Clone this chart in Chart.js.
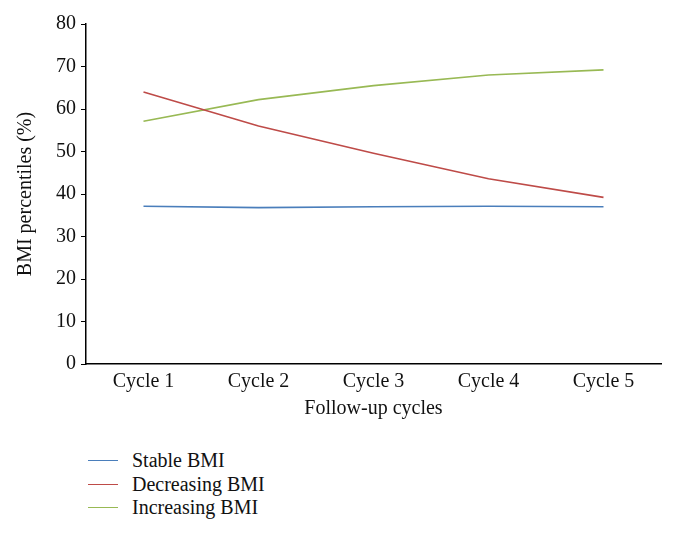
<!DOCTYPE html>
<html>
<head>
<meta charset="utf-8">
<script src="https://cdn.jsdelivr.net/npm/chart.js@4.4.1/dist/chart.umd.min.js"></script>
<style>
    html, body { margin: 0; padding: 0; background: #fff; }
    #wrap { position: relative; width: 675px; height: 536px; }
    #chart-box { position: absolute; left: 0; top: 0; width: 675px; height: 421px; }
    #legend { position: absolute; left: 88px; top: 449px; font-family: 'Liberation Serif', 'DejaVu Serif', serif; font-size: 20px; color: #111; }
    .lg-item { display: flex; align-items: center; height: 23.5px; }
    .lg-line { width: 30px; height: 0; border-top: 1.6px solid; margin-right: 14px; }
</style>
</head>
<body>
<div id="wrap">
    <div id="chart-box"><canvas id="lineChart" width="675" height="421"></canvas></div>
    <div id="legend"></div>
</div>
<script>
    // ─── Data ────────────────────────────────────────────────────────────────
    const cycles = ['Cycle 1', 'Cycle 2', 'Cycle 3', 'Cycle 4', 'Cycle 5'];
    const stableBMI = [37.1, 36.8, 37.0, 37.1, 37.0];
    const decreasingBMI = [64.0, 56.0, 49.6, 43.6, 39.2];
    const increasingBMI = [57.1, 62.2, 65.5, 68.0, 69.2];
    const yTicks = [0, 10, 20, 30, 40, 50, 60, 70, 80];

    const COLORS = {
        blue: '#4a7ebb',
        red: '#be4b48',
        green: '#98b954',
        axis: '#000',
        text: '#111'
    };

    const FONT = "'Liberation Serif', 'DejaVu Serif', serif";
    Chart.defaults.font.family = FONT;
    Chart.defaults.color = COLORS.text;

    function series(label, data, color) {
        return {
            label,
            data,
            borderColor: color,
            backgroundColor: color,
            borderWidth: 1.6,
            pointRadius: 0,
            tension: 0,
            fill: false
        };
    }

    const chart = new Chart(document.getElementById('lineChart'), {
        type: 'line',
        data: {
            labels: cycles,
            datasets: [
                series('Stable BMI', stableBMI, COLORS.blue),
                series('Decreasing BMI', decreasingBMI, COLORS.red),
                series('Increasing BMI', increasingBMI, COLORS.green)
            ]
        },
        options: {
            responsive: false,
            animation: false,
            layout: { padding: { top: 24, right: 14, left: 14, bottom: 0 } },
            plugins: {
                legend: { display: false },
                tooltip: { enabled: false }
            },
            scales: {
                x: {
                    offset: true,
                    grid: { display: true, drawOnChartArea: false, drawTicks: false, color: COLORS.axis },
                    border: { display: true, color: COLORS.axis, width: 1.5 },
                    ticks: { padding: 6, color: COLORS.text, font: { size: 20 } },
                    title: {
                        display: true,
                        text: 'Follow-up cycles',
                        color: COLORS.text,
                        font: { size: 20 },
                        padding: { top: -3, bottom: 0 }
                    }
                },
                y: {
                    min: 0,
                    max: 80,
                    afterBuildTicks: (axis) => { axis.ticks = yTicks.map(v => ({ value: v })); },
                    grid: { display: true, drawOnChartArea: false, drawTicks: true, tickLength: 5, color: COLORS.axis, lineWidth: 1 },
                    border: { display: true, color: COLORS.axis, width: 1.5 },
                    ticks: { padding: 5, color: COLORS.text, font: { size: 20 } },
                    title: {
                        display: true,
                        text: 'BMI percentiles (%)',
                        color: COLORS.text,
                        font: { size: 20 },
                        padding: { top: 0, bottom: 13 }
                    }
                }
            }
        }
    });

    // ─── HTML legend (vertical list under the chart) ─────────────────────────
    const legendEl = document.getElementById('legend');
    chart.data.datasets.forEach(ds => {
        const item = document.createElement('div');
        item.className = 'lg-item';
        const line = document.createElement('span');
        line.className = 'lg-line';
        line.style.borderTopColor = ds.borderColor;
        const txt = document.createElement('span');
        txt.textContent = ds.label;
        item.appendChild(line);
        item.appendChild(txt);
        legendEl.appendChild(item);
    });
</script>
</body>
</html>
